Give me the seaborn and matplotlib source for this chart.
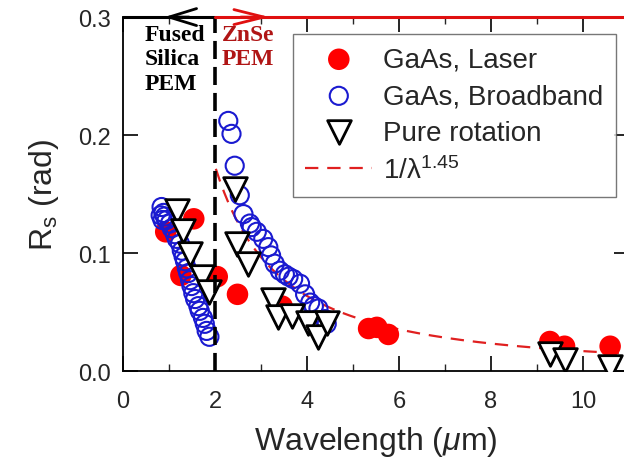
import numpy as np
import matplotlib
matplotlib.use('Agg')
import matplotlib.pyplot as plt
import seaborn as sns

# GaAs, Laser (filled red)
laser_x = [0.93, 1.26, 1.54, 2.05, 2.49, 3.46, 5.34, 5.52, 5.77, 9.28, 9.60, 10.59]
laser_y = [0.118, 0.081, 0.129, 0.080, 0.065, 0.055, 0.036, 0.037, 0.031, 0.025, 0.021, 0.021]

# GaAs, Broadband (open blue)
bb_x = [0.82, 0.84, 0.86, 0.88, 0.91, 0.95, 1.02, 1.06, 1.13, 1.17, 1.24, 1.28, 1.32, 1.35,
        1.39, 1.42, 1.46, 1.49, 1.53, 1.57, 1.64, 1.67, 1.74, 1.78, 1.82, 1.88,
        2.29, 2.36, 2.43, 2.54, 2.62, 2.76, 2.80, 2.91, 3.05, 3.16, 3.22, 3.30, 3.41,
        3.52, 3.60, 3.70, 3.85, 3.96, 4.07, 4.15, 4.25, 4.39, 4.43]
bb_y = [0.132, 0.139, 0.128, 0.134, 0.131, 0.128, 0.125, 0.121, 0.116, 0.112, 0.108, 0.102,
        0.097, 0.093, 0.087, 0.083, 0.077, 0.072, 0.066, 0.061, 0.055, 0.051, 0.045, 0.040,
        0.034, 0.029,
        0.212, 0.201, 0.174, 0.149, 0.133, 0.125, 0.122, 0.118, 0.112, 0.105, 0.098, 0.091,
        0.085, 0.082, 0.080, 0.078, 0.074, 0.065, 0.058, 0.055, 0.053, 0.044, 0.040]

# Pure rotation (open triangles)
rot_x = [1.17, 1.30, 1.45, 1.71, 1.87, 2.43, 2.47, 2.72, 3.27, 3.38, 3.67, 4.03, 4.25, 4.43,
         9.28, 9.61, 10.59]
rot_y = [0.136, 0.119, 0.099, 0.080, 0.067, 0.154, 0.108, 0.091, 0.060, 0.046, 0.047, 0.041,
         0.029, 0.041, 0.014, 0.009, 0.003]

# fit curve A / lambda^1.45
fit_amp = 0.475
fit_exp = 1.45
fit_x = np.linspace(2.02, 11, 200)
fit_y = fit_amp / fit_x ** fit_exp

sns.set_style('ticks')
plt.rcParams['font.family'] = ['Liberation Sans', 'DejaVu Sans']
plt.rcParams['mathtext.fontset'] = 'custom'
plt.rcParams['mathtext.rm'] = 'Liberation Sans'
plt.rcParams['mathtext.it'] = 'Liberation Sans:italic'

fig = plt.figure(figsize=(6.24, 4.77), dpi=100)
ax = fig.add_axes([0.197, 0.2201, 0.811, 0.742])

sns.scatterplot(x=laser_x, y=laser_y, ax=ax, marker='o', s=240, color='#ff0000',
                edgecolor='none', label='GaAs, Laser', zorder=3)
sns.scatterplot(x=bb_x, y=bb_y, ax=ax, marker='o', s=170, color='#1a1ad0',
                linewidth=1.5, label='GaAs, Broadband', zorder=4)
ax.collections[-1].set_facecolor('none')
ax.collections[-1].set_edgecolor('#1a1ad0')
sns.scatterplot(x=rot_x, y=rot_y, ax=ax, marker='v', s=290, color='white',
                edgecolor='black', linewidth=2.0, label='Pure rotation', zorder=5)
sns.lineplot(x=fit_x, y=fit_y, ax=ax, color='#e02020', linewidth=1.6, dashes=(6, 4),
             label=r'1/λ$^{1.45}$', zorder=2)

# PEM boundary
ax.plot([2, 2], [0, 0.3], color='black', linewidth=2.6, dashes=(5, 2.2), zorder=6)

# top spine: black for fused silica, red for ZnSe
ax.spines['top'].set_visible(False)
ax.plot([0, 2], [0.3, 0.3], color='black', linewidth=2.2, clip_on=False, zorder=7)
ax.plot([2, 11], [0.3, 0.3], color='#e01010', linewidth=2.2, clip_on=False, zorder=7)
ax.annotate('', xy=(0.84, 0.3), xytext=(1.5, 0.3),
            arrowprops=dict(arrowstyle='->,head_length=0.55,head_width=0.17', color='black',
                            lw=2, mutation_scale=36),
            annotation_clip=False, zorder=8)
ax.annotate('', xy=(3.25, 0.3), xytext=(2.5, 0.3),
            arrowprops=dict(arrowstyle='->,head_length=0.6,head_width=0.15', color='#e01010',
                            lw=2, mutation_scale=36),
            annotation_clip=False, zorder=8)

ax.text(0.48, 0.294, 'Fused\nSilica\nPEM', family='Liberation Serif', fontweight='bold',
        fontsize=17, color='black', ha='left', va='top', linespacing=1.2)
ax.text(2.14, 0.294, 'ZnSe\nPEM', family='Liberation Serif', fontweight='bold',
        fontsize=17, color='#b01515', ha='left', va='top', linespacing=1.2)

ax.set_xlim(0, 11)
ax.set_ylim(0, 0.3)
ax.set_xticks([0, 2, 4, 6, 8, 10])
ax.set_xticks([1, 3, 5, 7, 9, 11], minor=True)
ax.set_yticks([0.0, 0.1, 0.2, 0.3])
ax.set_yticklabels(['0.0', '0.1', '0.2', '0.3'])
ax.tick_params(axis='both', which='major', direction='in', length=11, width=1.2,
               labelsize=17, top=True, right=True, color='black')
ax.tick_params(axis='x', which='minor', direction='in', length=5, width=1.0, top=True)
ax.tick_params(axis='x', which='major', pad=14)
ax.tick_params(axis='y', which='major', pad=9)
for side in ['left', 'bottom', 'right']:
    ax.spines[side].set_linewidth(1.3)
    ax.spines[side].set_color('black')

ax.set_xlabel(r'Wavelength ($\mu$m)', fontsize=23, labelpad=8)
ax.set_ylabel(r'R$_\mathrm{s}$ (rad)', fontsize=23, labelpad=12)

leg = ax.legend(loc='upper left', bbox_to_anchor=(0.336, 0.952), borderaxespad=0,
                fontsize=20, frameon=True, fancybox=False, edgecolor='#555555',
                handlelength=2.4, handletextpad=0.4, labelspacing=0.38, borderpad=0.45,
                scatterpoints=1)
leg.get_frame().set_linewidth(1.0)

fig.savefig('out.png', dpi=100)
